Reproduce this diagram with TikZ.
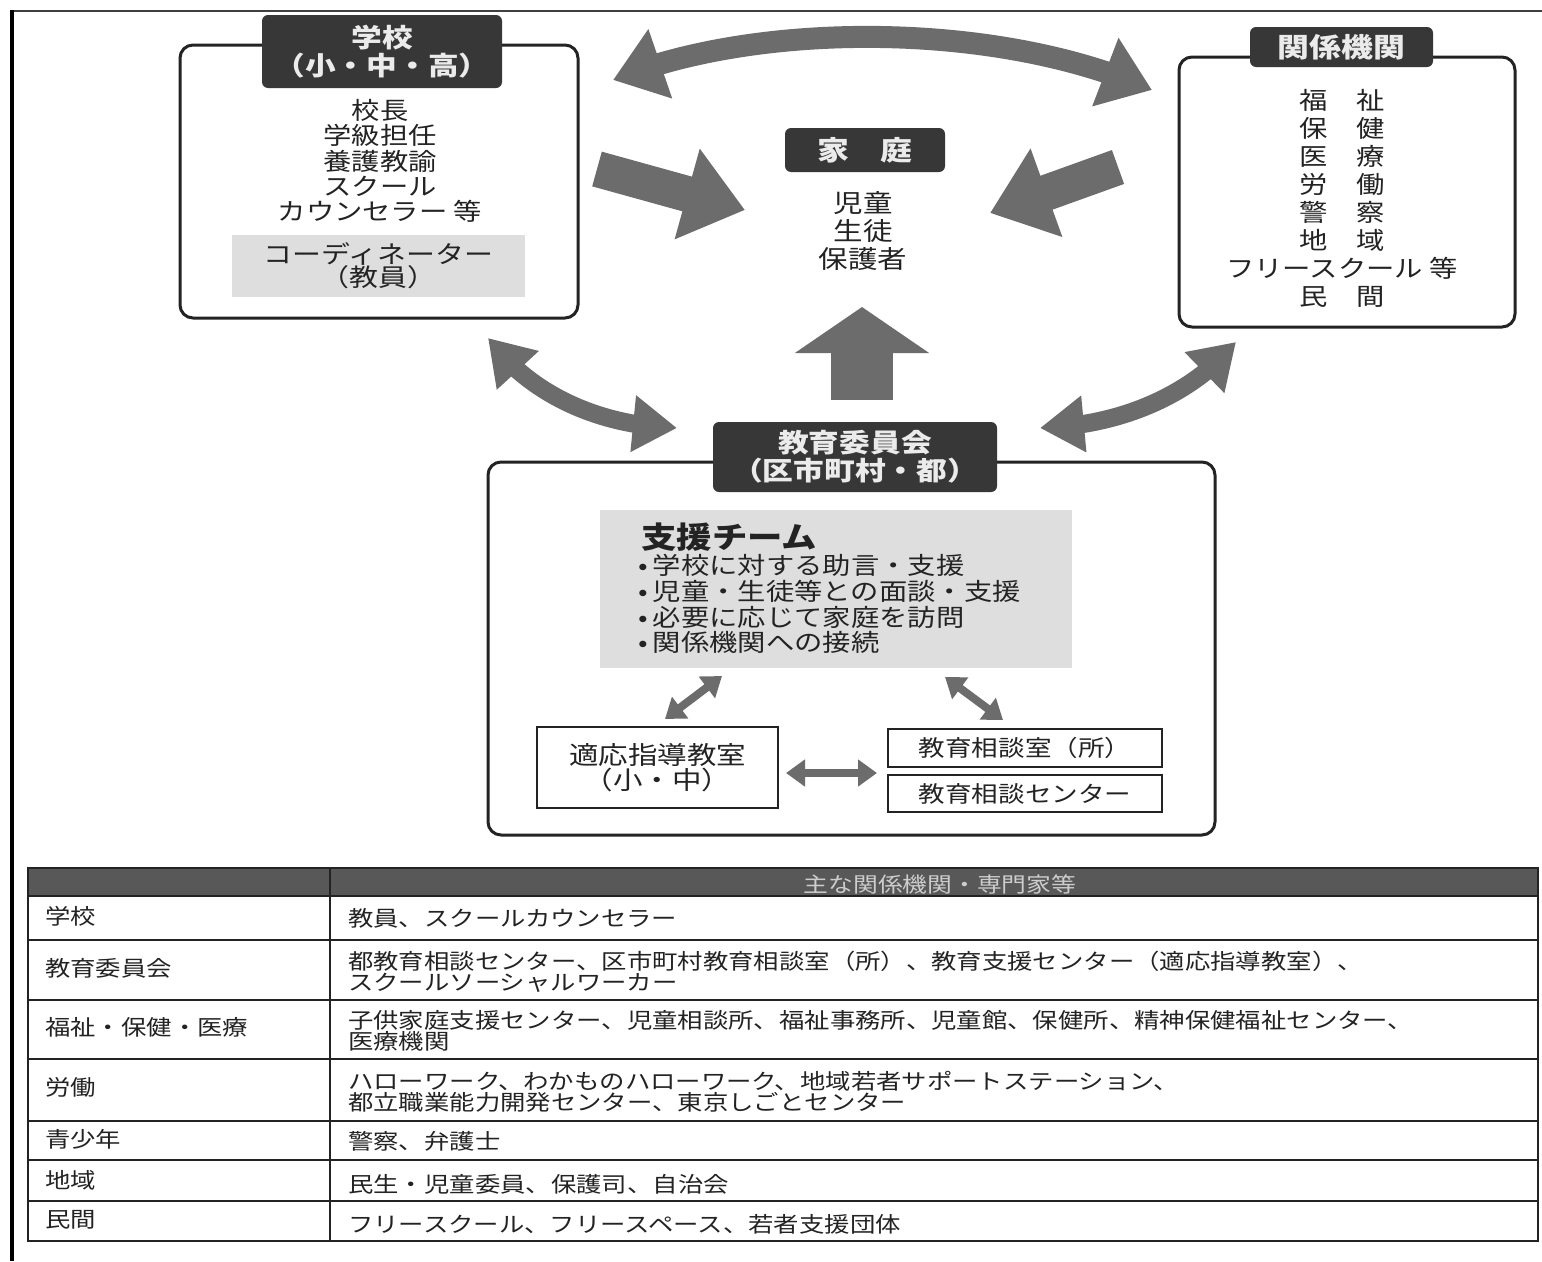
\documentclass[tikz,border=0pt]{standalone}
\usepackage{fontspec}
\setmainfont{Noto Sans CJK JP}[FakeStretch=1.18]
\usetikzlibrary{arrows.meta,bending}
\definecolor{darkbox}{RGB}{55,55,55}
\definecolor{arrowgray}{RGB}{108,108,108}
\definecolor{lightbox}{RGB}{222,222,222}
\definecolor{ink}{RGB}{35,35,35}
\definecolor{hdr}{RGB}{88,88,88}
\definecolor{hdrtext}{RGB}{205,205,205}
\newcommand\fsz[2]{\fontsize{#1}{#2}\selectfont}
\newcommand\bul{•\hspace{5pt}}
\begin{document}
\begin{tikzpicture}[x=1pt,y=-1pt,
  outerbox/.style={draw=ink, line width=3pt, rounded corners=13pt},
  titlebox/.style={fill=darkbox, rounded corners=6pt, text=white!92!black, align=center, inner sep=0pt},
  greybox/.style={fill=lightbox, text=ink, align=center, inner sep=0pt},
  plainbox/.style={draw=ink, line width=2pt, text=ink, align=center, inner sep=0pt},
  txt/.style={text=ink, align=center, inner sep=0pt},
  bigdbl/.style={draw=arrowgray, line width=22pt, {Triangle[length=50pt,width=70pt]}-{Triangle[length=50pt,width=70pt]}},
  middbl/.style={draw=arrowgray, line width=18pt, {Triangle[length=44pt,width=54pt]}-{Triangle[length=44pt,width=54pt]}},
  blockarr/.style={draw=arrowgray, line width=36pt, -{Triangle[length=60pt,width=90pt]}},
  smalldbl/.style={draw=arrowgray, line width=8pt, {Triangle[length=19pt,width=26pt]}-{Triangle[length=19pt,width=26pt]}},
  tablerule/.style={draw=ink, line width=1.6pt},
  celltext/.style={text=ink, inner sep=0pt, anchor=west, align=left, font=\fsz{21.5}{21}}
]
\useasboundingbox (0,0) rectangle (1542,1261);
\fill[white] (0,0) rectangle (1542,1261);
% scan frame
\draw[line width=2pt, black!75] (12,11) -- (1542,11);
\draw[line width=3.5pt, black] (12,10) -- (12,1261);

% ---------- School ----------
\node[outerbox, minimum width=398pt, minimum height=273pt] (school) at (379,181.5) {};
\node[titlebox, minimum width=240pt, minimum height=73pt, font=\fsz{26}{28}\bfseries] (schooltitle) at (382,51.5) {学校\\（小・中・高）};
\node[txt, font=\fsz{24}{25.2}] (schoolstaff) at (380,161) {校長\\学級担任\\養護教諭\\スクール\\カウンセラー 等};
\node[greybox, minimum width=293pt, minimum height=62pt, font=\fsz{24.5}{23}] (coord) at (378.5,266) {コーディネーター\\（教員）};

% ---------- Related agencies ----------
\node[outerbox, minimum width=336pt, minimum height=270pt] (kikan) at (1347,192) {};
\node[titlebox, minimum width=183pt, minimum height=40pt, font=\fsz{27}{28}\bfseries] (kikantitle) at (1341.5,47) {関係機関};
\node[txt, font=\fsz{24}{28}] (kikanlist) at (1342,198) {福　祉\\保　健\\医　療\\労　働\\警　察\\地　域\\フリースクール 等\\民　間};

% ---------- Family ----------
\node[titlebox, minimum width=160pt, minimum height=44pt, font=\fsz{27}{28}\bfseries] (katei) at (865,150) {家　庭};
\node[txt, font=\fsz{25}{28}] (kateilist) at (863,231) {児童\\生徒\\保護者};

% ---------- Board of education ----------
\node[outerbox, minimum width=727pt, minimum height=373pt] (kyoiku) at (851.5,648.5) {};
\node[titlebox, minimum width=284pt, minimum height=70pt, font=\fsz{26}{28}\bfseries] (kyoikutitle) at (855,457) {教育委員会\\（区市町村・都）};
\node[greybox, minimum width=472pt, minimum height=158pt] (team) at (836,589) {};
\node[txt, anchor=west, font=\fsz{30}{30}\bfseries] (teamtitle) at (641,537) {支援チーム};
\node[txt, anchor=west, align=left, font=\fsz{24}{25.7}] (teamlist) at (638,604) {\bul 学校に対する助言・支援\\\bul 児童・生徒等との面談・支援\\\bul 必要に応じて家庭を訪問\\\bul 関係機関への接続};
\node[plainbox, minimum width=241pt, minimum height=81pt, font=\fsz{25}{25}] (tekio) at (657.5,767.5) {適応指導教室\\（小・中）};
\node[plainbox, minimum width=274pt, minimum height=38pt, font=\fsz{22.5}{24}] (soudan) at (1025,748) {教育相談室（所）};
\node[plainbox, minimum width=274pt, minimum height=37pt, font=\fsz{22.5}{24}] (center) at (1025,793.5) {教育相談センター};

% ---------- arrow end points ----------
\coordinate (a1) at (613,80);
\coordinate (a2) at (1152,90);
\coordinate (b1) at (597,169);
\coordinate (b2) at (745,210);
\coordinate (c1) at (1118,167);
\coordinate (c2) at (990,213);
\coordinate (d1) at (862,400);
\coordinate (d2) at (862,307);
\coordinate (e1) at (488,338);
\coordinate (e2) at (677,428);
\coordinate (f1) at (1236,342);
\coordinate (f2) at (1040,428);
\coordinate (g1) at (722,676);
\coordinate (g2) at (665,719);
\coordinate (h1) at (945,677);
\coordinate (h2) at (1003,720);
\coordinate (i1) at (786,773);
\coordinate (i2) at (877,773);

% ---------- arrows ----------
\draw[bigdbl] (a1) .. controls (760,20) and (1000,22) .. (a2);
\draw[blockarr] (b1) -- (b2);
\draw[blockarr] (c1) -- (c2);
\draw[draw=arrowgray, line width=62pt, -{Triangle[length=46pt,width=132pt]}] (d1) -- (d2);
\draw[middbl] (e1) .. controls (530,395) and (600,426) .. (e2);
\draw[middbl] (f2) .. controls (1120,426) and (1192,395) .. (f1);
\draw[smalldbl] (g1) -- (g2);
\draw[smalldbl] (h1) -- (h2);
\draw[smalldbl] (i1) -- (i2);

% ---------- table ----------
\fill[hdr] (28,868) rectangle (1538,896);
\node[inner sep=0pt, text=hdrtext, font=\fsz{21}{21}] (thead) at (940,884) {主な関係機関・専門家等};
\foreach \yy in {896,940,1000,1059,1121,1160,1201}{\draw[tablerule] (28,\yy) -- (1538,\yy);}
\draw[tablerule] (330,868) -- (330,1241);
\draw[line width=2pt, draw=ink] (28,868) rectangle (1538,1241);

\node[celltext] (r1l) at (45,916) {学校};
\node[celltext] (r2l) at (45,968) {教育委員会};
\node[celltext] (r3l) at (45,1027) {福祉・保健・医療};
\node[celltext] (r4l) at (45,1087) {労働};
\node[celltext] (r5l) at (45,1139) {青少年};
\node[celltext] (r6l) at (45,1180) {地域};
\node[celltext] (r7l) at (45,1220) {民間};

\node[celltext] (r1r) at (348,918) {教員、スクールカウンセラー};
\node[celltext] (r2r) at (348,972) {都教育相談センター、区市町村教育相談室（所）、教育支援センター（適応指導教室）、\\スクールソーシャルワーカー};
\node[celltext] (r3r) at (348,1031) {子供家庭支援センター、児童相談所、福祉事務所、児童館、保健所、精神保健福祉センター、\\医療機関};
\node[celltext] (r4r) at (348,1092) {ハローワーク、わかものハローワーク、地域若者サポートステーション、\\都立職業能力開発センター、東京しごとセンター};
\node[celltext] (r5r) at (348,1141) {警察、弁護士};
\node[celltext] (r6r) at (348,1184) {民生・児童委員、保護司、自治会};
\node[celltext] (r7r) at (348,1224) {フリースクール、フリースペース、若者支援団体};
\end{tikzpicture}
\end{document}
